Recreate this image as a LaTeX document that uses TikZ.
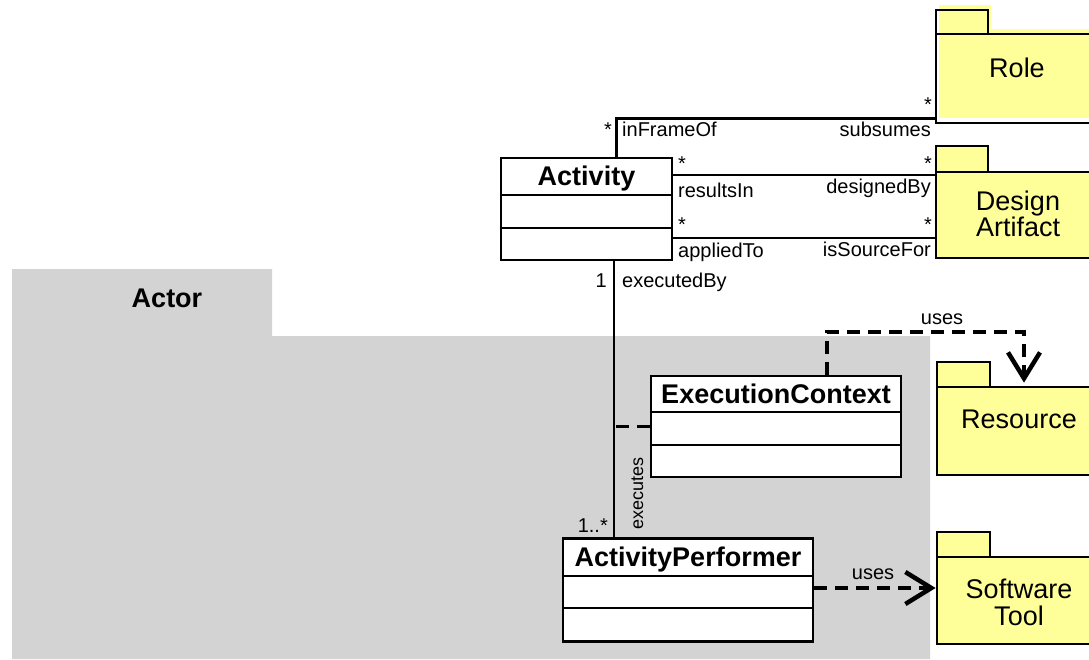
\documentclass[tikz,border=0pt]{standalone}
\usepackage{fontspec}
\setmainfont{Liberation Sans}
\usetikzlibrary{arrows.meta}
\definecolor{pkgyellow}{HTML}{FFFF99}
\definecolor{actorgray}{HTML}{D3D3D3}
\tikzset{
  outline/.style={line width=2.7pt},
  classbox/.style={draw, outline, fill=white, inner sep=0pt},
  pkgbody/.style={draw, outline, fill=pkgyellow, inner sep=0pt},
  pkgtab/.style={draw, outline, fill=pkgyellow},
  assoc/.style={line width=2.7pt},
  dep/.style={line width=3.5pt, dash pattern=on 13pt off 8pt},
  barb/.style={-{Straight Barb[length=26pt,width=32pt,line width=4.5pt]}},
  clsname/.style={font=\bfseries\fontsize{27}{30}\selectfont, inner sep=0pt, anchor=base},
  pkgname/.style={font=\fontsize{27}{27}\selectfont, inner sep=0pt, align=center},
  lbl/.style={font=\fontsize{20}{22}\selectfont, inner sep=0pt},
  smalllbl/.style={font=\fontsize{18}{20}\selectfont, inner sep=0pt},
}
\begin{document}
\begin{tikzpicture}[x=1pt,y=-1pt]
\useasboundingbox (0,0) rectangle (1089,659);
\clip (0,0) rectangle (1089,659);

% Actor package (grey background)
\fill[actorgray] (12,269) -- (272,269) -- (272,336) -- (930,336) -- (930,659) -- (12,659) -- cycle;
\node[clsname] (actorname) at (167,307) {Actor};

% vertical axis of the executedBy / executes association
\coordinate (ax) at (614,287);

% class boxes
\node[classbox, minimum width=171pt, minimum height=102pt] (act) at (586.5,209) {};
\node[clsname] (actname) at (586.5,185) {Activity};
\draw[assoc] (act.west |- 0,195) -- (act.east |- 0,195);
\draw[assoc] (act.west |- 0,228) -- (act.east |- 0,228);

\node[classbox, minimum width=250pt, minimum height=101pt] (ec) at (776,426.5) {};
\node[clsname] (ecname) at (776,403) {ExecutionContext};
\draw[assoc] (ec.west |- 0,412) -- (ec.east |- 0,412);
\draw[assoc] (ec.west |- 0,445) -- (ec.east |- 0,445);

\node[classbox, minimum width=250pt, minimum height=103pt] (ap) at (688,590) {};
\node[clsname] (apname) at (688,566) {ActivityPerformer};
\draw[assoc] (ap.west |- 0,576) -- (ap.east |- 0,576);
\draw[assoc] (ap.west |- 0,608) -- (ap.east |- 0,608);

% packages
% Role (its fill sits slightly offset from the outline)
\fill[pkgyellow] (939,5) rectangle (991,29);
\fill[pkgyellow] (939,29) rectangle (1103,118);
\draw[outline] (936,10) rectangle (988,34);
\node[draw, outline, inner sep=0pt, minimum width=164pt, minimum height=89pt] (role) at (1018,78.5) {};
\node[pkgname, anchor=base] (rolename) at (1017,77) {Role};

\draw[pkgtab] (936,146) rectangle (988,172);
\node[pkgbody, minimum width=164pt, minimum height=86pt] (da) at (1018,215) {};
\node[pkgname, font=\fontsize{27}{23}\selectfont, anchor=south] (daname) at (1018,237) {Design\\Artifact};

\draw[pkgtab] (937,362) rectangle (990,387);
\node[pkgbody, minimum width=164pt, minimum height=88pt] (res) at (1019,431) {};
\node[pkgname, anchor=base] (resname) at (1019,428) {Resource};

\draw[pkgtab] (937,532) rectangle (990,557);
\node[pkgbody, minimum width=164pt, minimum height=87pt] (sw) at (1019,600.5) {};
\node[pkgname, anchor=south] (swname) at (1019,626) {Software\\Tool};

% associations
\draw[assoc] ([xshift=117pt]act.north west) |- ([yshift=6pt]role.south west);
\draw[assoc] ([yshift=34pt]act.east) -- ([yshift=34pt]act.east -| da.west);
\draw[assoc] ([yshift=-29pt]act.east) -- ([yshift=-29pt]act.east -| da.west);
\draw[assoc] (act.south -| ax) -- (ap.north -| ax);

% association class link and dependencies
\draw[dep] (ec.west) -- (ec.west -| ax);
\coordinate (usesbend) at (942,332);
\draw[dep, barb] ([xshift=51pt]ec.north) |- (usesbend) -| ([xshift=5pt,yshift=3pt]res.north);
\draw[dep, barb] ([yshift=2pt]ap.east) -- ([yshift=2pt]ap.east -| sw.west);

% association end labels
\node[lbl, anchor=base east] (m1) at (612,136) {*};
\node[lbl, anchor=base west] (r1) at (622,136) {inFrameOf};
\node[lbl, anchor=base east] (r2) at (931,136) {subsumes};
\node[lbl, anchor=base east] (m2) at (932,111) {*};

\node[lbl, anchor=base west] (m3) at (678,170) {*};
\node[lbl, anchor=base east] (m4) at (932,170) {*};
\node[lbl, anchor=base west] (r3) at (678,197) {resultsIn};
\node[lbl, anchor=base east] (r4) at (931,193) {designedBy};

\node[lbl, anchor=base west] (m5) at (678,231) {*};
\node[lbl, anchor=base east] (m6) at (932,231) {*};
\node[lbl, anchor=base west] (r5) at (678,257) {appliedTo};
\node[lbl, anchor=base east] (r6) at (931,256) {isSourceFor};

\node[lbl, anchor=base east] (m7) at (607,287) {1};
\node[lbl, anchor=base west] (r7) at (622,287) {executedBy};
\node[lbl, anchor=base east] (m8) at (608,532) {1..*};
\node[smalllbl, rotate=90, anchor=base west] (r8) at (643,530) {executes};

\node[lbl, anchor=base] (d1) at (942,324) {uses};
\node[lbl, anchor=base] (d2) at (873,579) {uses};
\end{tikzpicture}
\end{document}
